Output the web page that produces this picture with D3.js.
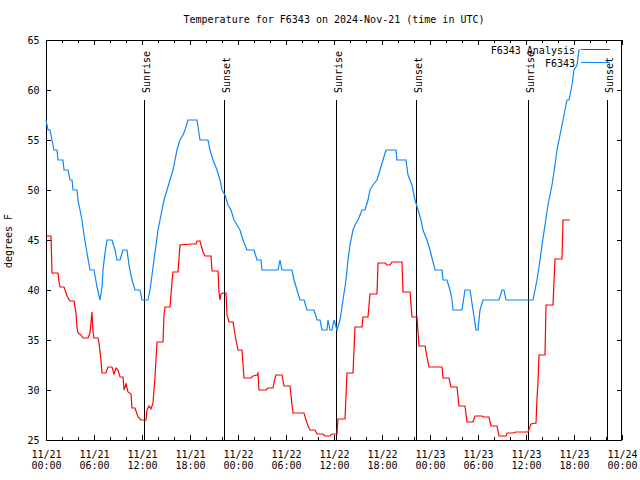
<!DOCTYPE html>
<html><head><meta charset="utf-8">
<script src="https://cdn.jsdelivr.net/npm/d3@7"></script>
<style>
body{margin:0;background:#fff}
svg{display:block}
text{font-family:"DejaVu Sans Mono",monospace;font-size:10px;fill:#000}
</style>
</head><body>
<svg id="chart" width="640" height="480"></svg>
<script>
// ---------- data ----------
const titleText = "Temperature for F6343 on 2024-Nov-21 (time in UTC)";
const yLabel = "degrees F";
const startTime = "2024-11-21T00:00:00Z";
const endTime = "2024-11-24T00:00:00Z";
const yTicks = [25, 30, 35, 40, 45, 50, 55, 60, 65];
const seriesNames = ["F6343 Analysis", "F6343"];
const seriesColors = ["#ff0000", "#0a86ff"];

// hours since 2024-11-21 00:00 UTC
const analysisHours = [0,0.625,0.75,1.5,1.625,1.75,2.25,2.5,2.75,3,3.5,3.75,3.875,4,4.375,4.625,5.25,5.5,5.75,5.875,6,6.5,6.625,6.875,7,7.5,7.75,8.25,8.5,8.75,9,9.25,9.625,9.75,10,10.25,10.625,10.75,11.125,11.5,11.875,12.5,12.625,12.875,13.125,13.375,13.625,13.875,14.625,14.75,14.875,15.5,15.75,15.875,16.5,16.75,18.25,18.75,18.875,19.25,19.625,19.875,20.625,20.75,21.5,21.625,21.75,21.875,22.125,22.5,22.625,22.875,23.375,23.75,24,24.5,24.75,25.625,25.875,26.375,26.5,26.625,27.5,27.75,28.375,28.625,28.75,29.5,29.75,30.5,30.75,30.875,32.25,32.5,32.75,33,33.625,33.875,34.625,34.875,35.5,35.75,36.375,36.5,37.375,37.625,38.375,38.625,39.5,39.625,40.25,40.5,41.375,41.5,42.375,42.625,43,43.25,44.5,44.625,45.5,45.75,46.375,46.625,47.375,47.625,47.875,49.5,49.625,50.375,50.625,51.375,51.625,52.375,52.625,53.375,53.625,54.5,54.625,55.375,55.625,56.375,56.625,57.5,57.625,58.375,58.75,60.25,60.625,61.25,61.375,61.5,61.625,62.375,62.5,63.375,63.625,64.5,64.625,65.5];
const analysisTemps = [45.4,45.4,41.7,41.7,40.8,40.3,40.3,39.7,39.2,38.9,38.9,37.7,36.2,35.7,35.5,35.2,35.2,35.7,37.8,35.8,35.2,35.2,34.7,33,31.7,31.7,32.3,32.3,31.6,32.2,32,31.3,31.3,30,30.6,29.8,29.6,28.2,28.2,27.3,27,27,28,28.4,28.1,28.7,31.3,34.8,34.8,37.5,38.3,38.3,40.8,41.8,41.8,44.5,44.6,44.6,44.9,44.9,43.8,43.4,43.4,41.9,41.9,39.8,39,39.6,39.7,39.7,37.5,36.8,36.8,35,34,34,31.2,31.2,31.4,31.5,31.7,30,30,30.2,30.2,31.2,31.5,31.5,30.4,30.4,28.5,27.7,27.7,27,26.4,26,26,25.6,25.6,25.4,25.4,25.6,25.6,27.1,27.1,31.7,31.7,36.3,36.3,37.3,37.3,39.6,39.6,42.7,42.7,42.5,42.5,42.8,42.8,39.8,39.8,37.3,37.3,34.4,34.4,33.3,32.3,32.3,31.2,31.2,30.3,30.3,28.4,28.4,26.8,26.8,27.4,27.4,27.3,27.3,26.4,26.4,25.4,25.4,25.7,25.7,25.8,25.8,26.6,26.7,29.1,30.8,33.5,33.5,38.5,38.5,43.1,43.1,47,47];

const obsHours = [0,0.125,0.25,0.5,0.75,0.875,1,1.375,1.5,2.125,2.25,2.75,3,3.25,3.375,3.875,4,4.25,4.5,4.75,5.125,5.5,6,6.375,6.75,7,7.125,7.375,7.625,8.25,8.625,8.875,9.25,9.625,10.125,10.375,10.75,11.125,11.75,12,12.75,13,13.25,13.5,13.75,14,14.375,14.75,15.125,15.5,15.875,16.125,16.375,16.75,17.125,17.375,17.75,18.875,19.25,20.25,20.5,20.875,21.375,21.75,22,22.375,22.75,23.125,23.5,23.875,24.25,24.625,25.125,26,26.375,26.875,27,29,29.25,29.5,30.75,31,31.375,31.75,32.25,32.625,33.5,33.875,34.25,34.5,35.125,35.25,35.5,35.75,36,36.375,36.75,37.125,37.5,37.75,38,38.375,38.625,39,39.5,39.875,40.25,40.5,40.875,41.375,41.75,42.125,42.5,43.75,43.875,45,45.25,45.75,46.125,46.5,46.875,47.125,47.625,48,48.625,49.5,49.625,50.125,50.5,50.75,50.875,52,52.375,53,53.375,53.75,54,54.25,54.625,56.625,57,57.25,57.5,60.875,61.125,61.375,61.75,62,62.375,62.75,63.25,63.625,63.875,64.25,64.5,64.875,65.125,65.375,65.75,66,66.375,66.625,66.75];
const obsTemps = [57,56.5,56,56,55,54.5,54,54,53,53,52,52,51,51,50,50,49,48,47,45.5,43.7,42,42,40.3,39,40.3,42,43.7,45,45,44,43,43,44,44,42.5,41,40,40,39,39,40,41.5,43,44.5,46,47.5,49,50,51,52,53,54,55,55.5,56,57,57,55,55,54,53,52,51,50,49.5,48.5,48,47,46.5,46,45,44,44,43,43,42,42,43,42,42,41,40,39,39,38,38,37,37,36,36,37,36,36,37,36,37,39,41,43,44.5,46,46.5,47,48,48,49,50,50.5,51,52,53,54,54,53,53,51.5,50.5,49,48,47,46,45,44,42,42,41,41,40,39,38,38,40,40,38,36,36,38,39,39,40,40,39,39,40,41,43,44.5,46.5,48.5,50.5,52.5,54,55.5,56.5,58,59,59,60.5,62,62.5,64,64];

const sunLabels = ["Sunrise", "Sunset", "Sunrise", "Sunset", "Sunrise", "Sunset"];
const sunTimes = ["2024-11-21T12:17:00Z", "2024-11-21T22:17:00Z", "2024-11-22T12:17:00Z", "2024-11-22T22:15:00Z", "2024-11-23T12:17:00Z", "2024-11-23T22:10:00Z"];

// ---------- chart ----------
const svg = d3.select("#chart");
const L = 46, R = 622, T = 40, B = 440;
const t0 = new Date(startTime);
const toDate = h => new Date(+t0 + h * 3600e3);

const x = d3.scaleUtc().domain([t0, new Date(endTime)]).range([L, R]);
const y = d3.scaleLinear().domain([25, 65]).range([B, T]);

svg.append("rect").attr("width", 640).attr("height", 480).attr("fill", "#fff");

function clean(g) {
  g.select(".domain").remove();
  g.selectAll(".tick line").attr("stroke", "#000").attr("shape-rendering", "crispEdges");
}

// minor x ticks (every 2 h), bottom & top
svg.append("g").attr("transform", `translate(0,${B})`)
  .call(d3.axisBottom(x).ticks(d3.utcHour.every(2)).tickSize(-3).tickFormat(""))
  .call(clean);
svg.append("g").attr("transform", `translate(0,${T})`)
  .call(d3.axisTop(x).ticks(d3.utcHour.every(2)).tickSize(-3).tickFormat(""))
  .call(clean);

// major x ticks (every 6 h)
const fmtDate = d3.utcFormat("%m/%d"), fmtTime = d3.utcFormat("%H:%M");
const xb = svg.append("g").attr("transform", `translate(0,${B})`)
  .call(d3.axisBottom(x).ticks(d3.utcHour.every(6)).tickSize(-5).tickFormat(""))
  .call(clean);
xb.selectAll(".tick").each(function(d) {
  const g = d3.select(this);
  g.select("text").remove();
  const t = g.append("text").attr("text-anchor", "middle");
  t.append("tspan").attr("x", 0).attr("y", 17.5).text(fmtDate(d));
  t.append("tspan").attr("x", 0).attr("y", 29).text(fmtTime(d));
});
svg.append("g").attr("transform", `translate(0,${T})`)
  .call(d3.axisTop(x).ticks(d3.utcHour.every(6)).tickSize(-5).tickFormat(""))
  .call(clean);

// y ticks
svg.append("g").attr("transform", `translate(${L},0)`)
  .call(d3.axisLeft(y).tickValues(yTicks).tickSize(-5).tickPadding(6.5).tickFormat(d3.format("d")))
  .call(clean)
  .call(g => g.selectAll("text").attr("fill", "#000"));
svg.append("g").attr("transform", `translate(${R},0)`)
  .call(d3.axisRight(y).tickValues(yTicks).tickSize(-5).tickFormat(""))
  .call(clean);

// frame
svg.append("rect").attr("x", L + 0.5).attr("y", T + 0.5).attr("width", R - L - 1).attr("height", B - T)
  .attr("fill", "none").attr("stroke", "#000").attr("shape-rendering", "crispEdges");

// remove axis default font attrs
svg.selectAll("g").attr("font-family", null).attr("font-size", null);

// title and y label
svg.append("text").attr("x", 334).attr("y", 23).attr("text-anchor", "middle").text(titleText);
svg.append("text").attr("transform", "translate(12,241) rotate(-90)").attr("text-anchor", "middle").text(yLabel);

// legend
const legY = [49.5, 62.5];
seriesNames.forEach((n, i) => {
  svg.append("text").attr("x", 575).attr("y", legY[i] + 4).attr("text-anchor", "end").text(n);
  svg.append("line").attr("x1", 581).attr("x2", 610).attr("y1", legY[i]).attr("y2", legY[i])
    .attr("stroke", seriesColors[i]).attr("stroke-width", 1.2).attr("shape-rendering", "crispEdges");
});

// sunrise / sunset lines
sunTimes.forEach((s, i) => {
  const xs = Math.round(x(new Date(s))) + 0.5;
  svg.append("line").attr("x1", xs).attr("x2", xs).attr("y1", 100).attr("y2", B)
    .attr("stroke", "#000").attr("stroke-width", 1).attr("shape-rendering", "crispEdges");
  svg.append("text").attr("transform", `translate(${xs + 5},93) rotate(-90)`)
    .attr("text-anchor", "start").text(sunLabels[i]);
});

// data lines
const analysis = analysisHours.map((h, i) => ({ d: toDate(h), v: analysisTemps[i] }));
const obs = obsHours.map((h, i) => ({ d: toDate(h), v: obsTemps[i] }));
const line = d3.line().x(p => x(p.d)).y(p => y(p.v));
svg.append("path").datum(obs).attr("d", line).attr("fill", "none")
  .attr("stroke", seriesColors[1]).attr("stroke-width", 1.2);
svg.append("path").datum(analysis).attr("d", line).attr("fill", "none")
  .attr("stroke", seriesColors[0]).attr("stroke-width", 1.2);
</script>
</body></html>
